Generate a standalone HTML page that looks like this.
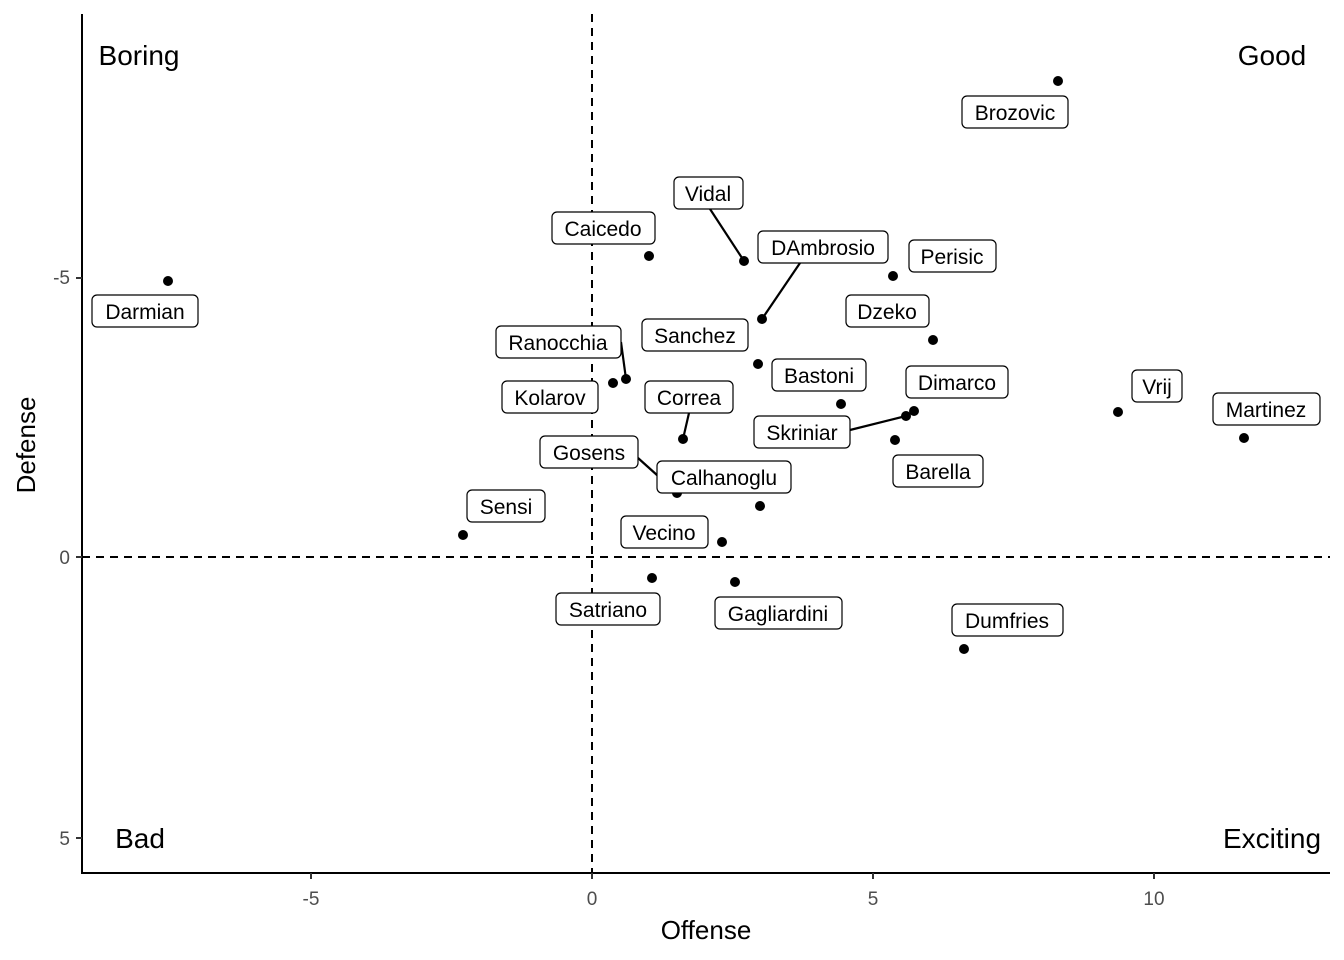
<!DOCTYPE html>
<html><head><meta charset="utf-8"><style>body{margin:0;background:#fff}svg{display:block}text{font-family:"Liberation Sans",Arial,sans-serif}</style></head>
<body>
<svg width="1344" height="960" xmlns="http://www.w3.org/2000/svg">
<rect width="1344" height="960" fill="#fff"/>
<line x1="592" y1="14" x2="592" y2="873" stroke="#000" stroke-width="2" stroke-dasharray="8,6"/>
<line x1="82" y1="557" x2="1330" y2="557" stroke="#000" stroke-width="2" stroke-dasharray="8,6"/>
<line x1="82" y1="14" x2="82" y2="874" stroke="#000" stroke-width="2"/>
<line x1="81" y1="873" x2="1330" y2="873" stroke="#000" stroke-width="2"/>
<g stroke="#333" stroke-width="2">
<line x1="311" y1="873" x2="311" y2="879"/><line x1="592" y1="873" x2="592" y2="879"/><line x1="873" y1="873" x2="873" y2="879"/><line x1="1154" y1="873" x2="1154" y2="879"/>
<line x1="76" y1="278" x2="82" y2="278"/><line x1="76" y1="557" x2="82" y2="557"/><line x1="76" y1="838" x2="82" y2="838"/>
</g>
<g fill="#4d4d4d" font-size="19" text-anchor="middle">
<text x="311" y="905">-5</text><text x="592" y="905">0</text><text x="873" y="905">5</text><text x="1154" y="905">10</text>
</g>
<g fill="#4d4d4d" font-size="19" text-anchor="end">
<text x="70" y="284">-5</text><text x="70" y="564">0</text><text x="70" y="845">5</text>
</g>
<text x="706" y="939" font-size="26" text-anchor="middle">Offense</text>
<text transform="translate(35,445) rotate(-90)" font-size="26" text-anchor="middle">Defense</text>
<g font-size="28" text-anchor="middle">
<text x="139" y="65">Boring</text><text x="1272" y="65">Good</text><text x="140" y="848">Bad</text><text x="1272" y="848">Exciting</text>
</g>
<g stroke="#000" stroke-width="2.2">
<line x1="710" y1="209" x2="744" y2="261"/>
<line x1="800" y1="263" x2="762" y2="319"/>
<line x1="621" y1="342" x2="626" y2="379"/>
<line x1="850" y1="430" x2="906" y2="416"/>
<line x1="689" y1="413" x2="683" y2="439"/>
<line x1="638" y1="458" x2="677" y2="493"/>
</g>
<g fill="#000">
<circle cx="168" cy="281" r="5"/><circle cx="1058" cy="81" r="5"/><circle cx="744" cy="261" r="5"/><circle cx="649" cy="256" r="5"/>
<circle cx="762" cy="319" r="5"/><circle cx="893" cy="276" r="5"/><circle cx="933" cy="340" r="5"/><circle cx="758" cy="364" r="5"/>
<circle cx="626" cy="379" r="5"/><circle cx="613" cy="383" r="5"/><circle cx="841" cy="404" r="5"/><circle cx="914" cy="411" r="5"/>
<circle cx="906" cy="416" r="5"/><circle cx="1118" cy="412" r="5"/><circle cx="1244" cy="438" r="5"/><circle cx="683" cy="439" r="5"/>
<circle cx="895" cy="440" r="5"/><circle cx="677" cy="493" r="5"/><circle cx="760" cy="506" r="5"/><circle cx="463" cy="535" r="5"/>
<circle cx="722" cy="542" r="5"/><circle cx="652" cy="578" r="5"/><circle cx="735" cy="582" r="5"/><circle cx="964" cy="649" r="5"/>
</g>
<g font-size="21" text-anchor="middle">
<g fill="#fff" stroke="#000" stroke-width="1.2">
<rect x="92" y="295" width="106" height="32" rx="5"/>
<rect x="962" y="96" width="106" height="32" rx="5"/>
<rect x="674" y="177" width="69" height="32" rx="5"/>
<rect x="552" y="212" width="103" height="32" rx="5"/>
<rect x="758" y="231" width="130" height="32" rx="5"/>
<rect x="909" y="240" width="87" height="32" rx="5"/>
<rect x="846" y="295" width="83" height="32" rx="5"/>
<rect x="642" y="319" width="106" height="32" rx="5"/>
<rect x="496" y="326" width="125" height="32" rx="5"/>
<rect x="502" y="381" width="96" height="32" rx="5"/>
<rect x="772" y="359" width="94" height="32" rx="5"/>
<rect x="906" y="366" width="102" height="32" rx="5"/>
<rect x="754" y="416" width="96" height="32" rx="5"/>
<rect x="1132" y="370" width="50" height="32" rx="5"/>
<rect x="1213" y="393" width="107" height="32" rx="5"/>
<rect x="645" y="381" width="88" height="32" rx="5"/>
<rect x="893" y="455" width="90" height="32" rx="5"/>
<rect x="540" y="436" width="98" height="32" rx="5"/>
<rect x="657" y="461" width="134" height="32" rx="5"/>
<rect x="467" y="490" width="78" height="32" rx="5"/>
<rect x="621" y="516" width="87" height="32" rx="5"/>
<rect x="556" y="593" width="104" height="32" rx="5"/>
<rect x="715" y="597" width="127" height="32" rx="5"/>
<rect x="952" y="604" width="111" height="32" rx="5"/>
</g>
<text x="145" y="319">Darmian</text>
<text x="1015" y="120">Brozovic</text>
<text x="708" y="201">Vidal</text>
<text x="603" y="236">Caicedo</text>
<text x="823" y="255">DAmbrosio</text>
<text x="952" y="264">Perisic</text>
<text x="887" y="319">Dzeko</text>
<text x="695" y="343">Sanchez</text>
<text x="558" y="350">Ranocchia</text>
<text x="550" y="405">Kolarov</text>
<text x="819" y="383">Bastoni</text>
<text x="957" y="390">Dimarco</text>
<text x="802" y="440">Skriniar</text>
<text x="1157" y="394">Vrij</text>
<text x="1266" y="417">Martinez</text>
<text x="689" y="405">Correa</text>
<text x="938" y="479">Barella</text>
<text x="589" y="460">Gosens</text>
<text x="724" y="485">Calhanoglu</text>
<text x="506" y="514">Sensi</text>
<text x="664" y="540">Vecino</text>
<text x="608" y="617">Satriano</text>
<text x="778" y="621">Gagliardini</text>
<text x="1007" y="628">Dumfries</text>
</g>
</svg>
</body></html>
